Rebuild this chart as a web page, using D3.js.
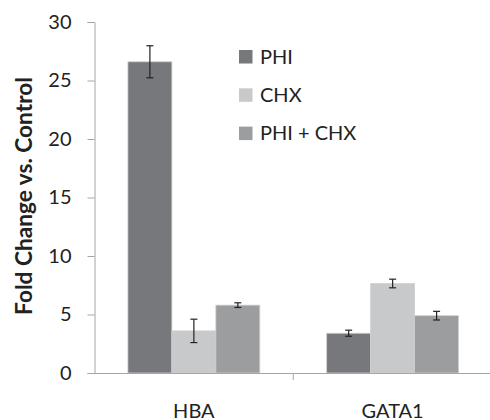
<!DOCTYPE html>
<html><head><meta charset="utf-8">
<script src="https://cdn.jsdelivr.net/npm/d3@7"></script>
<style>body{margin:0;background:#fff}svg{display:block}</style>
</head><body><svg width="490" height="420"></svg>
<script>
const categories = ["HBA", "GATA1"];
const seriesNames = ["PHI", "CHX", "PHI + CHX"];
const phi = [26.6, 3.4];
const chx = [3.6, 7.65];
const phiChx = [5.8, 4.9];
const phiErr = [1.37, 0.26];
const chxErr = [1.0, 0.37];
const phiChxErr = [0.2, 0.37];
const yTicks = [0, 5, 10, 15, 20, 25, 30];
const colors = ["#77787b", "#c8c9cb", "#9b9d9f"];

const values = [phi, chx, phiChx];
const errs = [phiErr, chxErr, phiChxErr];

const svg = d3.select("svg");
const font = "Lato, 'Open Sans', sans-serif";
const mLeft = 94.5, mRight = 492, mTop = 22, mBottom = 373;

const x0 = d3.scaleBand().domain(categories).range([mLeft, mRight]);
const x1 = d3.scaleBand().domain(seriesNames).range([0, x0.bandwidth()]).paddingInner(0).paddingOuter(0.76);
const y = d3.scaleLinear().domain([0, 30]).range([mBottom, mTop]);

// y axis
const yAxis = svg.append("g").attr("transform", `translate(${mLeft},0)`)
  .call(d3.axisLeft(y).tickValues(yTicks).tickSize(7).tickPadding(16));
yAxis.select(".domain").attr("stroke", "#a6a6a6");
yAxis.selectAll(".tick line").attr("stroke", "#a6a6a6");
yAxis.selectAll("text").attr("font-family", font).attr("font-size", 20).attr("fill", "#222");

// bars
const groups = svg.append("g").selectAll("g").data(categories).join("g")
  .attr("transform", d => `translate(${x0(d)},0)`);
seriesNames.forEach((s, si) => {
  groups.append("rect")
    .attr("x", x1(s))
    .attr("y", (d, i) => y(values[si][i]))
    .attr("width", x1.bandwidth())
    .attr("height", (d, i) => mBottom - y(values[si][i]))
    .attr("fill", colors[si])
    .attr("stroke", "#d0d0d0").attr("stroke-width", 0.8);
});

// x axis
const xAxis = svg.append("g").attr("transform", `translate(0,${mBottom})`)
  .call(d3.axisBottom(x0).tickSize(0).tickPadding(0));
xAxis.select(".domain").attr("stroke", "#a6a6a6");
xAxis.selectAll("text").attr("font-family", font).attr("font-size", 20).attr("fill", "#222")
  .attr("dy", null).attr("y", 44.5);
svg.append("g").selectAll("line").data([categories[1]]).join("line")
  .attr("x1", d => x0(d)).attr("x2", d => x0(d))
  .attr("y1", mBottom).attr("y2", mBottom + 7)
  .attr("stroke", "#a6a6a6");

// error bars
seriesNames.forEach((s, si) => {
  groups.each(function(d, i) {
    const g = d3.select(this);
    const cx = x1(s) + x1.bandwidth() / 2;
    const v = values[si][i], e = errs[si][i];
    g.append("line").attr("x1", cx).attr("x2", cx).attr("y1", y(v + e)).attr("y2", y(v - e)).attr("stroke", "#222").attr("stroke-width", 1.2);
    [v + e, v - e].forEach(t => g.append("line").attr("x1", cx - 3.5).attr("x2", cx + 3.5).attr("y1", y(t)).attr("y2", y(t)).attr("stroke", "#222").attr("stroke-width", 1.2));
  });
});

// legend
const leg = svg.append("g").attr("transform", "translate(239,50)");
seriesNames.forEach((s, i) => {
  leg.append("rect").attr("x", 0).attr("y", i * 38.3).attr("width", 13.5).attr("height", 13.5).attr("fill", colors[i]);
  leg.append("text").attr("x", 21).attr("y", i * 38.3 + 13.5).attr("font-family", font).attr("font-size", 20).attr("fill", "#222").text(s);
});

// y title
const title = svg.append("text").attr("transform", "translate(31.5,196) rotate(-90)")
  .attr("text-anchor", "middle").attr("font-family", font).attr("font-weight", "bold")
  .attr("font-size", 19).attr("fill", "#222").text("Fold Change vs. Control");
const len = title.node().getComputedTextLength();
title.attr("font-size", 19 * 238 / len);
</script></body></html>
